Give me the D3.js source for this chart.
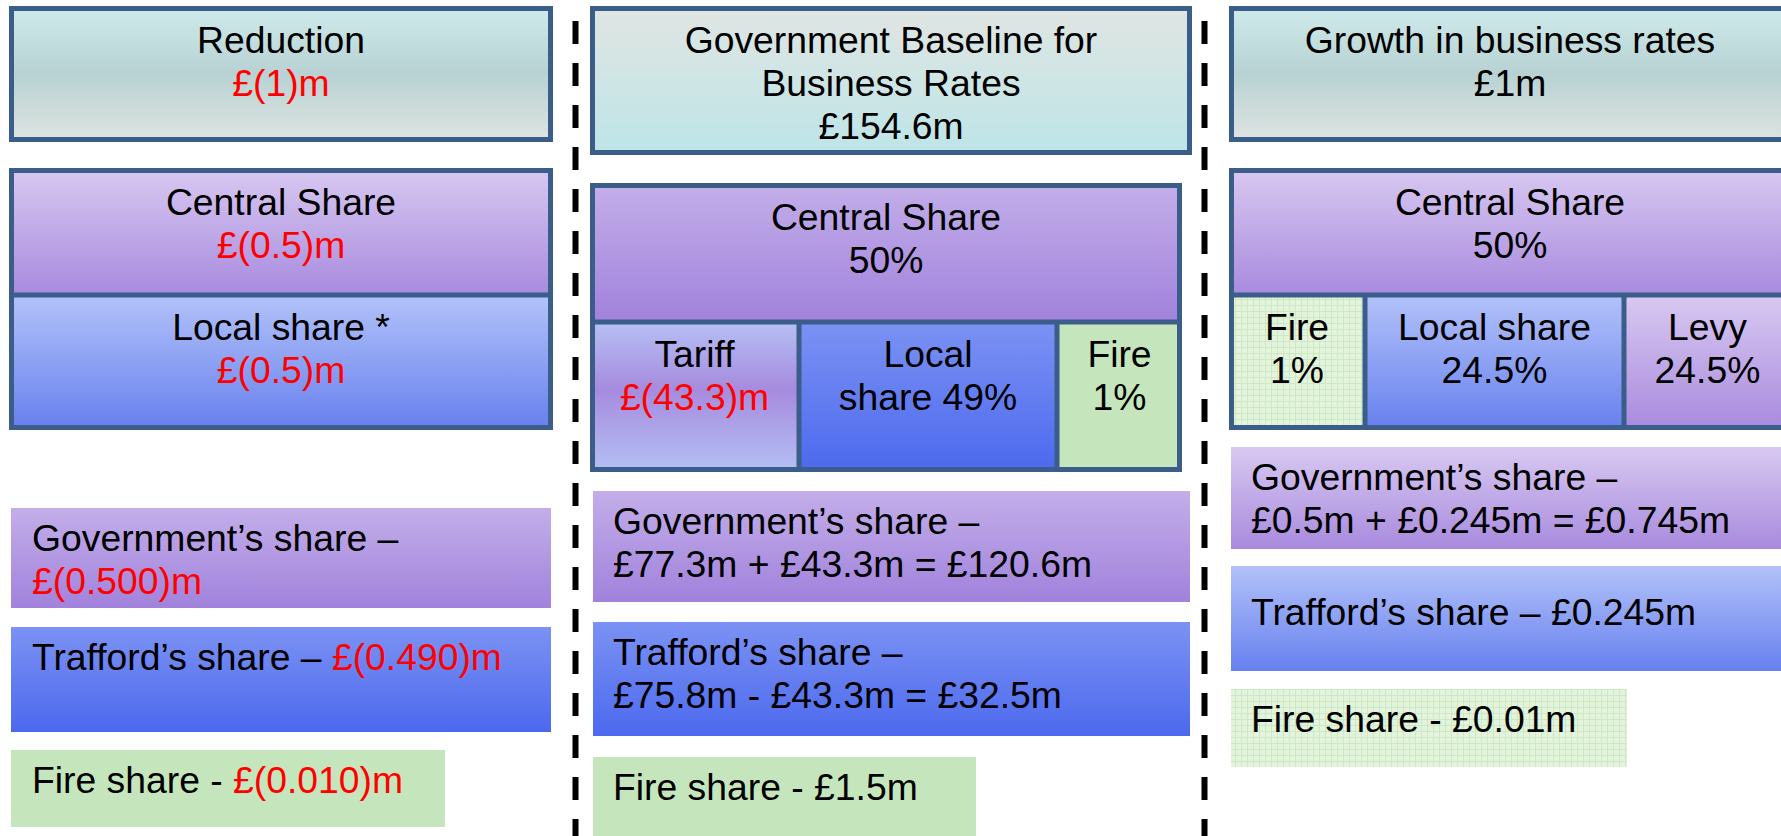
<!DOCTYPE html>
<html>
<head>
<meta charset="utf-8">
<script src="https://cdn.jsdelivr.net/npm/d3@7"></script>
<style>
  body { margin: 0; background: #fff; }
  svg { display: block; }
  text { font-family: "Liberation Sans", Arial, sans-serif; font-size: 37.3px; fill: #000; }
  .neg { fill: #ff0000; }
</style>
</head>
<body>
<svg id="chart"></svg>
<script>
// text in {braces} is drawn red (negative amounts)
const headerText = [
    ["Reduction", "{£(1)m}"],
    ["Government Baseline for", "Business Rates", "£154.6m"],
    ["Growth in business rates", "£1m"]
];
const centralText = [
    ["Central Share", "{£(0.5)m}"],
    ["Central Share", "50%"],
    ["Central Share", "50%"]
];
const splitText = [
    [["Local share *", "{£(0.5)m}"]],
    [["Tariff", "{£(43.3)m}"], ["Local", "share 49%"], ["Fire", "1%"]],
    [["Fire", "1%"], ["Local share", "24.5%"], ["Levy", "24.5%"]]
];
const govText = [
    ["Government’s share –", "{£(0.500)m}"],
    ["Government’s share –", "£77.3m + £43.3m = £120.6m"],
    ["Government’s share –", "£0.5m + £0.245m = £0.745m"]
];
const traffordText = [
    ["Trafford’s share – {£(0.490)m}"],
    ["Trafford’s share –", "£75.8m - £43.3m = £32.5m"],
    ["Trafford’s share – £0.245m"]
];
const fireText = [
    ["Fire share - {£(0.010)m}"],
    ["Fire share - £1.5m"],
    ["Fire share - £0.01m"]
];

// layout of the three columns (pixels)
const layout = [
    { head: [9, 553, 6, 142], grp: [9, 553, 168, 295, 430], cuts: [], splitFill: ["blueLight"], centralFill: "purpleLight", headFill: "teal",
      gov: [11, 551, 508, 608], traf: [11, 551, 627, 732], fire: [11, 445, 750, 827],
      govFill: "purple", trafFill: "blue", fireFill: "#c5e6bc", textX: 32, trafPad: 43 },
    { head: [590, 1192, 6, 155], grp: [590, 1182, 183, 322, 472], cuts: [799, 1057], splitFill: ["tariff", "blue", "#c5e6bc"], centralFill: "purple", headFill: "tealMid",
      gov: [593, 1190, 491, 602], traf: [593, 1190, 622, 736], fire: [593, 976, 757, 840],
      govFill: "purple", trafFill: "blue", fireFill: "#c5e6bc", textX: 613, trafPad: 43 },
    { head: [1229, 1791, 6, 142], grp: [1229, 1791, 168, 295, 430], cuts: [1365, 1624], splitFill: ["url(#grid)", "blueLight", "purpleLight"], centralFill: "purpleLight", headFill: "teal",
      gov: [1231, 1791, 447, 549], traf: [1231, 1791, 566, 671], fire: [1231, 1627, 689, 767],
      govFill: "purpleLight", trafFill: "blueLight", fireFill: "url(#grid)", textX: 1251, trafPad: 59 }
];
const dividerX = [575.5, 1204.5];

const width = 1781, height = 836;
const lineGap = 43, border = 5, borderColor = "#3a5d8a";

const svg = d3.select("#chart").attr("width", width).attr("height", height);
const defs = svg.append("defs");

const gradients = {
    teal: [[0, "#cfebeb"], [0.5, "#b8d2d3"], [1, "#dfe4e1"]],
    tealMid: [[0, "#e0e5e2"], [1, "#bde5e8"]],
    purpleLight: [[0, "#d8c9f1"], [1, "#a88ade"]],
    purple: [[0, "#c3aee9"], [1, "#a182dc"]],
    blueLight: [[0, "#b3c2f9"], [1, "#6680ee"]],
    blue: [[0, "#7b92f3"], [1, "#4c69ee"]],
    tariff: [[0, "#b6c0f5"], [0.45, "#a68bde"], [1, "#b4c0f5"]]
};
Object.entries(gradients).forEach(([id, stops]) => {
    defs.append("linearGradient")
        .attr("id", id)
        .attr("x1", 0).attr("y1", 0).attr("x2", 0).attr("y2", 1)
        .selectAll("stop")
        .data(stops)
        .join("stop")
        .attr("offset", d => d[0])
        .attr("stop-color", d => d[1]);
});

let grid = defs.append("pattern")
    .attr("id", "grid")
    .attr("width", 6).attr("height", 6)
    .attr("patternUnits", "userSpaceOnUse");
grid.append("rect").attr("width", 6).attr("height", 6).attr("fill", "#e3f3dc");
grid.append("path").attr("d", "M0,5.5H6M5.5,0V6").attr("stroke", "#cde8c4").attr("stroke-width", 1);

const fillOf = f => (f.startsWith("#") || f.startsWith("url")) ? f : "url(#" + f + ")";

// write lines of text, {..} parts in red
const writeLines = (g, lines, x, y, anchor) => {
    lines.forEach((line, i) => {
        let t = g.append("text")
            .attr("x", x)
            .attr("y", y + i * lineGap)
            .attr("text-anchor", anchor);
        line.split(/(\{[^}]*\})/).filter(s => s.length).forEach(part => {
            let red = part.startsWith("{");
            t.append("tspan")
                .attr("class", red ? "neg" : null)
                .text(red ? part.slice(1, -1) : part);
        });
    });
};

const cell = (g, x0, x1, y0, y1, fill) => {
    g.append("rect")
        .attr("x", x0).attr("y", y0)
        .attr("width", x1 - x0).attr("height", y1 - y0)
        .attr("fill", fillOf(fill));
};

const frame = (g, x0, x1, y0, y1) => {
    g.append("rect")
        .attr("x", x0 + border / 2).attr("y", y0 + border / 2)
        .attr("width", x1 - x0 - border).attr("height", y1 - y0 - border)
        .attr("fill", "none")
        .attr("stroke", borderColor)
        .attr("stroke-width", border);
};

layout.forEach((c, i) => {
    let g = svg.append("g");

    // header box
    let [hx0, hx1, hy0, hy1] = c.head;
    cell(g, hx0, hx1, hy0, hy1, c.headFill);
    frame(g, hx0, hx1, hy0, hy1);
    writeLines(g, headerText[i], (hx0 + hx1) / 2, hy0 + 47, "middle");

    // central share + split row
    let [gx0, gx1, gy0, gmid, gy1] = c.grp;
    cell(g, gx0, gx1, gy0, gmid, c.centralFill);
    let edges = [gx0].concat(c.cuts, [gx1]);
    d3.pairs(edges).forEach(([a, b], k) => {
        cell(g, a, b, gmid, gy1, c.splitFill[k]);
    });
    frame(g, gx0, gx1, gy0, gy1);
    g.append("line")
        .attr("x1", gx0).attr("x2", gx1)
        .attr("y1", gmid).attr("y2", gmid)
        .attr("stroke", borderColor).attr("stroke-width", border);
    c.cuts.forEach(x => {
        g.append("line")
            .attr("x1", x).attr("x2", x)
            .attr("y1", gmid).attr("y2", gy1)
            .attr("stroke", borderColor).attr("stroke-width", border);
    });
    writeLines(g, centralText[i], (gx0 + gx1) / 2, gy0 + 47, "middle");
    d3.pairs(edges).forEach(([a, b], k) => {
        writeLines(g, splitText[i][k], (a + b) / 2, gmid + 45, "middle");
    });

    // share boxes
    cell(g, c.gov[0], c.gov[1], c.gov[2], c.gov[3], c.govFill);
    writeLines(g, govText[i], c.textX, c.gov[2] + 43, "start");
    cell(g, c.traf[0], c.traf[1], c.traf[2], c.traf[3], c.trafFill);
    writeLines(g, traffordText[i], c.textX, c.traf[2] + c.trafPad, "start");
    cell(g, c.fire[0], c.fire[1], c.fire[2], c.fire[3], c.fireFill);
    writeLines(g, fireText[i], c.textX, c.fire[2] + 43, "start");
});

svg.selectAll(".divider")
    .data(dividerX)
    .join("line")
    .attr("class", "divider")
    .attr("x1", d => d).attr("x2", d => d)
    .attr("y1", 21).attr("y2", height)
    .attr("stroke", "#000")
    .attr("stroke-width", 6)
    .attr("stroke-dasharray", "23,19");
</script>
</body>
</html>
